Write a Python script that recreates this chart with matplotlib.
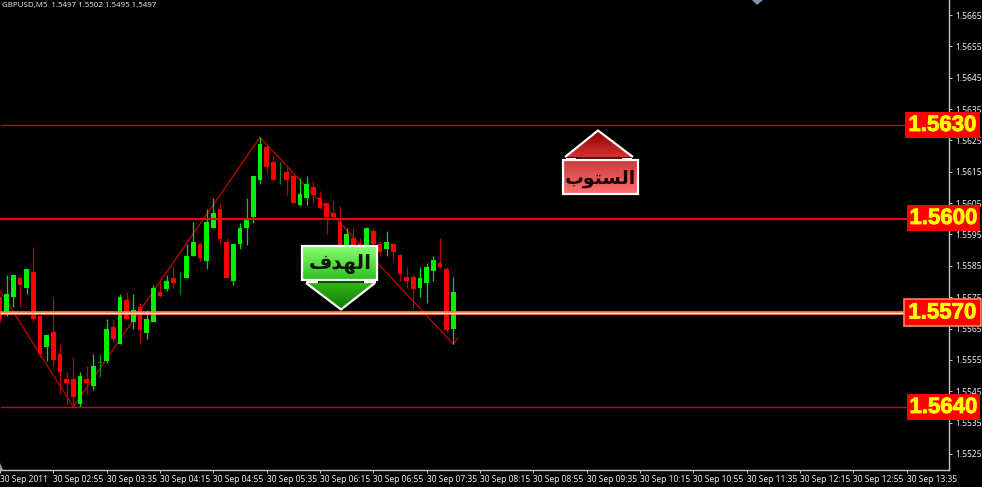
import numpy as np
import matplotlib
matplotlib.use("Agg")
import matplotlib.pyplot as plt
import matplotlib.patheffects as pe
from matplotlib.patches import Polygon, Rectangle
from matplotlib.colors import LinearSegmentedColormap

title = "GBPUSD,M5  1.5497 1.5502 1.5495 1.5497"
opens = np.array([15575,15570,15575,15581,15578,15583,15569,15559,15564,15557,15549,15549,15541,15549,15546.5,15554,15554.5,15565.5,15560,15574,15567,15572,15563.5,15567,15576.5,15577.5,15581,15581,15581,15588,15592,15586.5,15597,15603,15592.5,15580,15592,15597,15600.5,15612.5,15623,15618,15613.5,15615,15613.5,15604.5,15606.5,15610,15606.5,15605,15602,15599,15591,15594,15592,15591,15596,15592,15590.5,15592,15588.5,15581.5,15581.5,15578,15579.5,15583.5,15586,15584,15565]) / 1e4
highs = np.array([15575,15582,15582,15582,15584,15591,15569,15563,15575,15560,15551,15556,15551,15553,15557,15557,15568,15568,15576,15576.5,15576,15573,15571,15579,15580,15582,15584.5,15583,15592,15599,15592.5,15603,15606.5,15605,15594,15592,15598.5,15606.5,15613.5,15626,15624,15620,15618,15616.5,15614,15613,15613.5,15612,15609,15605,15606,15604,15597,15597.5,15594,15597.5,15597,15593,15596,15592.5,15588.5,15584.5,15582.5,15584.5,15586,15588,15594,15584.5,15581.5]) / 1e4
lows = np.array([15567,15569,15572,15572,15576,15567,15556,15554.5,15553,15544,15541,15540,15540,15544,15545.5,15549.5,15554,15561,15560,15568,15565,15560,15561.5,15567,15575,15577,15578,15576,15581,15588,15586.5,15584,15597,15592,15581,15579,15590.5,15591.5,15598.5,15611,15614.5,15612,15611,15607.5,15605,15604,15604.5,15605,15603,15595,15600,15590,15590,15590,15590,15590,15590,15588,15588,15586.5,15580,15578,15571.5,15575,15573,15580,15584,15564,15560]) / 1e4
closes = np.array([15568,15576,15582,15579,15584,15568,15557,15563,15555,15551,15547.5,15543,15550,15547.5,15553,15554,15565,15561.5,15575,15568,15571,15564.5,15568,15578,15575.5,15580,15579.5,15581,15588,15592.5,15587.5,15599,15602,15593.5,15581,15592,15597,15600,15613.5,15624,15616.5,15612.5,15613.5,15612.5,15605,15608,15611,15607.5,15603.5,15600.5,15600.5,15591,15595,15591,15590.5,15597,15592,15589.5,15592.5,15589.5,15582.5,15580,15577.5,15581,15584.5,15587,15584.5,15564.5,15576.5]) / 1e4

zigzag_index = [0, 11, 39, 68, 68.7]
zigzag_price = [1.5577, 1.5540, 1.5626, 1.5560, 1.5562]

level_prices = [1.5630, 1.5600, 1.5570, 1.5540]
level_labels = ["1.5630", "1.5600", "1.5570", "1.5640"]
level_colors = ["#C80808", "#F00000", "#F08A50", "#C80808"]
level_widths = [1.0, 1.5, 2.6, 1.0]

y_ticks = [1.5665, 1.5655, 1.5645, 1.5635, 1.5625, 1.5615, 1.5605, 1.5595, 1.5585, 1.5575, 1.5565, 1.5555, 1.5545, 1.5535, 1.5525]
x_tick_labels = ["30 Sep 2011", "30 Sep 02:55", "30 Sep 03:35", "30 Sep 04:15", "30 Sep 04:55", "30 Sep 05:35",
                 "30 Sep 06:15", "30 Sep 06:55", "30 Sep 07:35", "30 Sep 08:15", "30 Sep 08:55", "30 Sep 09:35",
                 "30 Sep 10:15", "30 Sep 10:55", "30 Sep 11:35", "30 Sep 12:15", "30 Sep 12:55", "30 Sep 13:35"]
target_text = "\uFED1\uFEAA\uFEEC\uFEDF\uFE8D"      # الهدف, shaped, visual order
stop_text = "\uFE8F\uFEEE\uFE98\uFEB4\uFEDF\uFE8D"  # الستوب, shaped, visual order

W, H = 982, 487
AX_R, AX_B = 949, 470
BAR_PX = 20 / 3
PX_PER_UNIT = 31350.0
GREY = "#C4C4C4"
fig = plt.figure(figsize=(W / 100, H / 100), dpi=100, facecolor="black")
ax = fig.add_axes([0, 1 - AX_B / H, AX_R / W, AX_B / H], facecolor="black")
ax.set_xlim(0, AX_R / BAR_PX)
ax.set_ylim(1.5665 - (AX_B - 15) / PX_PER_UNIT, 1.5665 + 15 / PX_PER_UNIT)

# zigzag
ax.plot(zigzag_index, zigzag_price, color="#C00000", lw=0.9, zorder=1)

# candles
idx = np.arange(len(opens))
up = closes > opens
doji = closes == opens
wick_cols = ["#0A8A0A" if d else ("#00D800" if u else "#C00000") for u, d in zip(up, doji)]
ax.vlines(idx, lows, highs, colors=wick_cols, lw=0.9, zorder=2)
body_cols = ["#0A8A0A" if d else ("#00F000" if u else "#FF0000") for u, d in zip(up, doji)]
bott = np.minimum(opens, closes)
hts = np.maximum(np.abs(closes - opens), 0.00002)
ax.bar(idx, hts, bottom=bott, width=0.66, color=body_cols, lw=0, zorder=3)

# horizontal levels
for p, c, w in zip(level_prices, level_colors, level_widths):
    ax.axhline(p, xmin=0.001, color=c, lw=w, zorder=4)
    if p == 1.5570:
        ax.axhline(p + 0.00001, xmin=0.001, color="#FFF0B0", lw=0.8, zorder=5)

# axes
ax.yaxis.tick_right()
ax.set_yticks(y_ticks)
ax.set_yticklabels([f"{v:.4f}" for v in y_ticks])
ax.set_xticks(np.arange(len(x_tick_labels)) * 8)
ax.set_xticklabels(x_tick_labels, ha="left")
ax.tick_params(axis="y", length=2.2, width=0.7, color=GREY, labelcolor="#EEEEEE", labelsize=6.1, pad=2.4)
ax.tick_params(axis="x", length=2.2, width=0.7, color=GREY, labelcolor="#EEEEEE", labelsize=6.1, pad=1.4)
for lab in ax.get_xticklabels() + ax.get_yticklabels():
    lab.set_family("Noto Sans")
for s in ("top", "left"):
    ax.spines[s].set_visible(False)
for s in ("right", "bottom"):
    ax.spines[s].set_color(GREY)
    ax.spines[s].set_linewidth(1.0)

# overlay in pixel coordinates for annotation graphics
ov = fig.add_axes([0, 0, 1, 1], facecolor="none")
ov.set_xlim(0, W)
ov.set_ylim(H, 0)
ov.axis("off")

def grad_poly(pts, top, bottom, edge=None, lw=1.6):
    x0, x1 = min(p[0] for p in pts), max(p[0] for p in pts)
    y0, y1 = min(p[1] for p in pts), max(p[1] for p in pts)
    cmap = LinearSegmentedColormap.from_list("g", [top, bottom])
    im = ov.imshow(np.linspace(0, 1, 64).reshape(-1, 1), cmap=cmap, extent=(x0, x1, y1, y0),
                   aspect="auto", zorder=10, interpolation="bilinear")
    poly = Polygon(pts, closed=True, transform=ov.transData, fc="none", ec="none")
    ov.add_patch(poly)
    im.set_clip_path(poly)
    if edge:
        ov.add_patch(Polygon(pts, closed=True, fc="none", ec=edge, lw=lw, zorder=11, joinstyle="miter"))

def seg(xs, ys, c="white", lw=1.6, z=12):
    ov.plot(xs, ys, color=c, lw=lw, zorder=z, solid_capstyle="butt")

# green target marker
grad_poly([(302, 246), (377, 246), (377, 280), (302, 280)], "#88FF70", "#2CC01C", edge="white")
grad_poly([(306, 283), (375, 283), (341, 309)], "#34B414", "#0C7C04")
seg([306, 341, 375], [283, 309.5, 283])
seg([306, 318], [281.5, 281.5]); seg([364, 376], [281.5, 281.5])
seg([319, 362], [282, 282], c="#1A5A10", lw=1.2)
ov.text(340.5, 264, target_text, family="DejaVu Sans", weight="bold", fontsize=14.5, color="#0C1408",
        ha="center", va="center", zorder=13)

# red stop marker
grad_poly([(598, 130), (565, 157), (633, 157)], "#8E0000", "#D43030")
seg([565, 598, 633], [157, 130.5, 157])
seg([566, 576], [158.5, 158.5]); seg([622, 632], [158.5, 158.5])
seg([577, 621], [158, 158], c="#701010", lw=1.2)
grad_poly([(563, 160), (638, 160), (638, 194), (563, 194)], "#C83C3C", "#FF7070", edge="white")
ov.text(600.5, 178, stop_text, family="DejaVu Sans", weight="bold", fontsize=13.5, color="#180404",
        ha="center", va="center", zorder=13)

# level labels
boxes = [(905, 112, 75, 26), (907, 205, 73, 26), (904, 299, 77, 27), (907, 394, 73, 26)]
for (x, y, w, h), t in zip(boxes, level_labels):
    border = t == "1.5570"
    ov.add_patch(Rectangle((x, y), w, h, fc="#FF0000", ec="#F08A50" if border else "none", lw=1.2, zorder=14))
    ov.text(x + w / 2, y + h / 2 + 0.5, t, family="Liberation Sans", weight="bold",
            fontsize=16, color="#FFFF00", ha="center", va="center", zorder=15,
            path_effects=[pe.withStroke(linewidth=0.6, foreground="#FFFF00")])

# chart window header and small marks
ov.text(2, 6, title, family="Noto Sans", fontsize=5.7, color="#E4E4E4", ha="left", va="center", zorder=15)
ov.add_patch(Polygon([(752, 0), (763, 0), (757, 5)], closed=True, fc="#7C93AE", ec="none", zorder=15))
ov.add_patch(Polygon([(0, 463), (0, 470), (3, 470)], closed=True, fc="#8C9CB0", ec="none", zorder=15))
ov.set_xlim(0, W)
ov.set_ylim(H, 0)

fig.savefig("out.png", dpi=100, facecolor="black")
